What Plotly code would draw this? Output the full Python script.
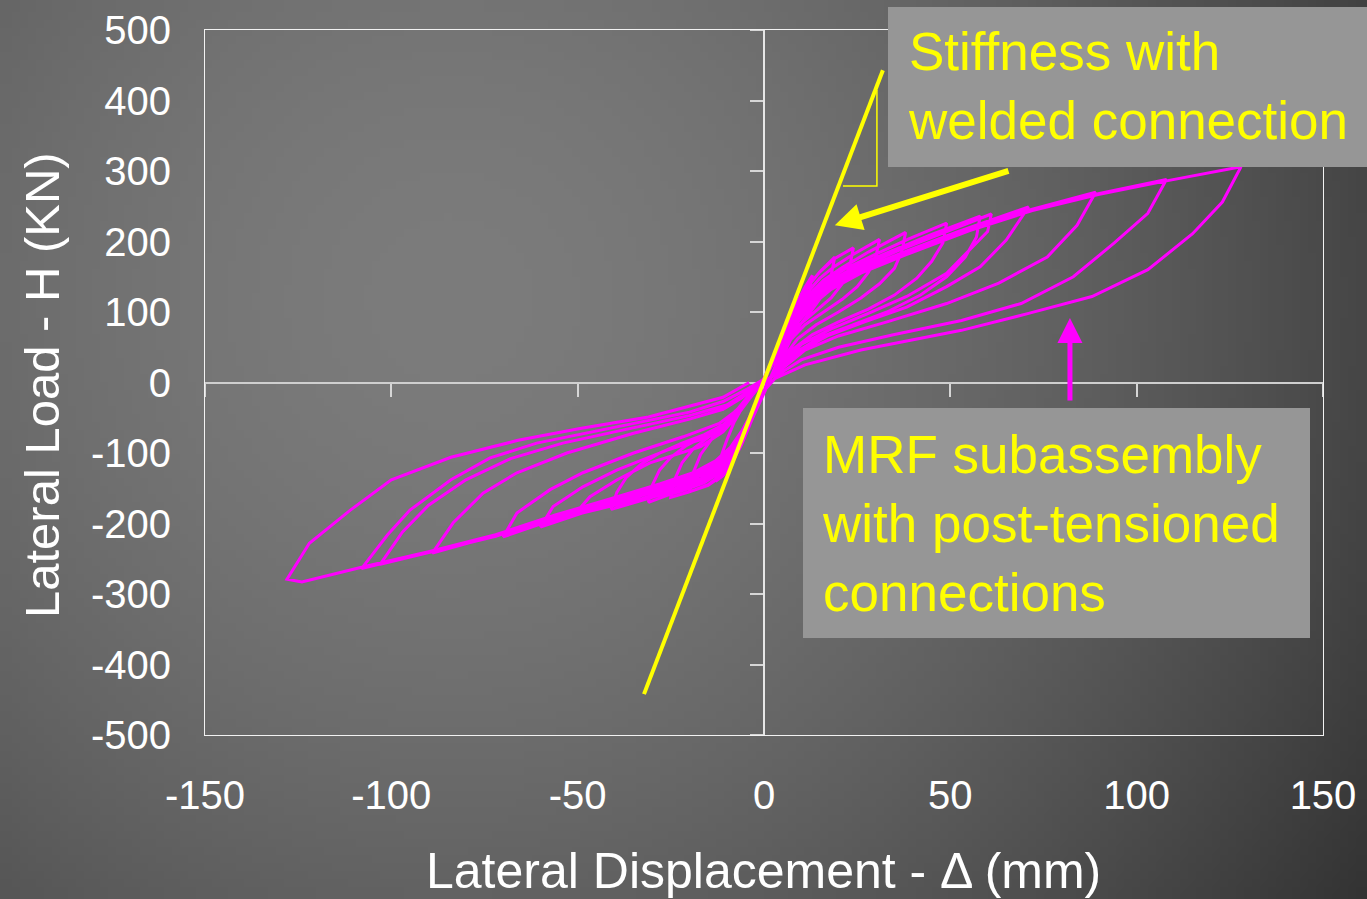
import base64, zlib, struct, math
import plotly.graph_objects as go

# ---------------- data ----------------
x_ticks = [-150, -100, -50, 0, 50, 100, 150]
x_ticktext = ["-150", "-100", "-50", "0", "50", "100", "150"]
y_ticks = [-500, -400, -300, -200, -100, 0, 100, 200, 300, 400, 500]
y_ticktext = ["-500", "-400", "-300", "-200", "-100", "0", "100", "200", "300", "400", "500"]

# hysteresis cycles: (displacement mm, lateral load kN)
c01 = [(0,0),(3,40),(6,80),(9,115),(11,135),(13,152),(12,125),(10,96),(8,70),(6,48),(4,26),(2,8),(0,-15),(-3,-50),(-6,-88),(-9,-118),(-11,-132),(-13,-140),(-12,-112),(-10,-82),(-8,-56),(-6,-36),(-4,-18),(-2,-4),(0,5)]
c02 = [(3,42),(6,80),(9,112),(12,138),(15,157),(19,178),(18,152),(16,126),(13,104),(10,84),(7,62),(4,34),(2,10),(0,-15),(-3,-50),(-6,-87),(-9,-115),(-12,-135),(-15,-146),(-20,-155),(-19,-128),(-17,-102),(-14,-80),(-11,-62),(-8,-44),(-5,-24),(-2,-6),(0,6)]
c03 = [(3,42),(6,80),(9,112),(12,138),(15,157),(19,176),(24,191),(23,165),(21,140),(18,120),(14,102),(10,84),(7,64),(4,36),(2,10),(0,-15),(-3,-50),(-6,-86),(-9,-114),(-12,-133),(-15,-145),(-20,-155),(-25,-163),(-24,-138),(-22,-114),(-19,-94),(-15,-78),(-11,-62),(-8,-46),(-5,-26),(-2,-7),(0,6)]
c04 = [(3,40),(6,76),(9,106),(12,130),(15,148),(19,165),(24,182),(31,203),(30,178),(28,156),(25,136),(21,118),(16,100),(11,82),(7,60),(4,32),(2,8),(0,-14),(-3,-48),(-6,-83),(-9,-110),(-12,-128),(-16,-142),(-21,-152),(-26,-160),(-31,-170),(-30,-146),(-28,-124),(-25,-106),(-21,-90),(-16,-76),(-11,-62),(-8,-48),(-5,-28),(-2,-8),(0,6)]
c05 = [(3,38),(6,72),(9,100),(12,124),(16,145),(21,163),(28,185),(38,213),(37,186),(35,162),(31,140),(26,120),(20,100),(14,82),(9,62),(5,34),(2,8),(0,-14),(-3,-46),(-6,-80),(-9,-106),(-12,-124),(-16,-138),(-22,-150),(-30,-163),(-41,-180),(-39.5,-156),(-37,-135),(-33,-116),(-28,-100),(-22,-86),(-16,-74),(-11,-60),(-8,-46),(-5,-28),(-2,-8),(0,6)]
c06 = [(3,37),(6,70),(9,98),(12,121),(16,142),(22,162),(30,182),(39,204),(49,226),(48,198),(45,172),(41,148),(35,124),(28,104),(20,86),(13,68),(8,48),(4,20),(1,4),(0,-13),(-3,-45),(-6,-78),(-9,-103),(-12,-121),(-17,-137),(-24,-151),(-33,-165),(-42,-177),(-51,-188),(-46.7,-162),(-39.4,-138),(-30.6,-114),(-17,-91),(-11,-70),(-8,-52),(-5,-30),(-2,-8),(0,6)]
c07 = [(3,36),(6,68),(9,95),(12,118),(17,141),(24,163),(33,184),(45,210),(58,236),(57,206),(54,178),(49,150),(42,124),(33,100),(24,82),(15,64),(9,44),(4,18),(1,3),(0,-13),(-3,-44),(-6,-76),(-9,-100),(-13,-120),(-18,-135),(-26,-150),(-36,-165),(-47,-182),(-60,-205),(-56.6,-176),(-48.6,-148),(-39.4,-124),(-26,-96),(-15,-78),(-10,-62),(-7,-45),(-4,-24),(-1,-4),(0,5)]
c08 = [(3,35),(6,66),(9,92),(13,118),(18,140),(26,164),(36,187),(48,212),(61,239),(60,214),(56,193),(49,155),(38.3,122),(28,98),(18,76),(10,54),(5,26),(1,4),(0,-12),(-3,-43),(-6,-74),(-9,-98),(-13,-118),(-19,-134),(-28,-150),(-40,-168),(-54,-190),(-70,-219),(-66.3,-185),(-57.4,-152),(-48.6,-128),(-35,-100),(-21.7,-77),(-12,-58),(-8,-42),(-4,-22),(-1,-3),(0,5)]
c09 = [(3,34),(6,64),(9,90),(13,115),(18,137),(26,160),(37,184),(52,214),(71,249),(65,202),(58,164),(49,136),(38.3,107),(27,86),(17,66),(10,46),(5,22),(1,3),(0,-12),(-3,-42),(-6,-72),(-9,-95),(-13,-114),(-19,-131),(-28,-147),(-40,-166),(-55,-188),(-70,-214),(-89,-242),(-83.4,-199),(-75.4,-157),(-66.3,-128),(-52.9,-100),(-35,-72),(-20,-52),(-11,-38),(-6,-22),(-2,-5),(0,5)]
c10 = [(3,33),(6,62),(9,88),(13,113),(18,135),(26,158),(38,184),(55,218),(72,246),(89,270),(84,223),(76,178),(63,141),(49,112),(33,86),(20,66),(11,46),(5,20),(1,3),(0,-12),(-3,-42),(-6,-71),(-9,-94),(-13,-113),(-19,-130),(-28,-146),(-40,-165),(-56,-190),(-72,-218),(-89,-240),(-103,-258),(-97,-212),(-90,-174),(-80,-138),(-68,-108),(-54,-86),(-37,-66),(-20,-47),(-10,-32),(-5,-16),(-1,-2),(0,5)]
c11 = [(3,33),(6,61),(9,86),(13,111),(18,133),(26,156),(38,182),(55,216),(72,245),(90,268),(108,288),(103,240),(94,198),(83,150),(69,112),(53,88),(35,68),(20,50),(10,32),(4,12),(0,-12),(-3,-41),(-6,-70),(-9,-93),(-13,-112),(-19,-129),(-28,-145),(-40,-164),(-56,-189),(-72,-217),(-90,-241),(-108,-264),(-101,-216),(-95,-181),(-84,-138),(-73.5,-107),(-61,-86),(-39.5,-63),(-20,-42),(-11,-27),(-4,-8),(0,5)]
c12 = [(3,32),(6,60),(9,85),(13,110),(18,132),(26,155),(38,181),(55,215),(72,244),(90,267),(108,286),(128,306),(123,256),(115,211),(103,160),(88,122),(71,98),(53,74),(26,46),(11,25),(3,6),(0,-12),(-3,-41),(-6,-69),(-9,-92),(-13,-111),(-19,-128),(-28,-144),(-40,-163),(-56,-188),(-72,-216),(-90,-240),(-108,-262),(-124,-283),(-128,-279),(-122,-228),(-111,-181),(-100,-138),(-84,-106),(-66,-82),(-49,-65),(-31,-49),(-11,-21),(-4,0)]
cycles = [c01, c02, c03, c04, c05, c06, c07, c08, c09, c10, c11, c12]

# stiffness line with welded connection and its slope triangle
stiff_x = [-32.2, 31.9]
stiff_y = [-442, 443]
tri_x = [30.3, 30.3, 21.2]
tri_y = [415, 278.7, 278.7]

# ---------------- background gradient image ----------------
W, H = 1367, 899
def make_png(w, h, rows):
    raw = b"".join(b"\x00" + bytes(r) for r in rows)
    def chunk(t, d):
        c = struct.pack(">I", len(d)) + t + d
        return c + struct.pack(">I", zlib.crc32(t + d) & 0xffffffff)
    return (b"\x89PNG\r\n\x1a\n" + chunk(b"IHDR", struct.pack(">IIBBBBB", w, h, 8, 0, 0, 0, 0))
            + chunk(b"IDAT", zlib.compress(raw, 9)) + chunk(b"IEND", b""))

gw, gh = 171, 112
rows = []
for j in range(gh):
    row = []
    for i in range(gw):
        X = (i + 0.5) * W / gw
        Y = (j + 0.5) * H / gh
        d = math.hypot(X - 450, Y - 300)
        v = 124 - 22 * (d / 541) ** 1.7
        row.append(int(max(40, min(130, v))))
    rows.append(row)
bg_uri = "data:image/png;base64," + base64.b64encode(make_png(gw, gh, rows)).decode()

# ---------------- figure ----------------
L, R, T, B = 205, 44, 30, 164
PW, PH = W - L - R, H - T - B
FONT = "Liberation Sans, Arial, sans-serif"

xs, ys = [], []
for c in cycles:
    for px, py in c:
        xs.append(px); ys.append(py)

fig = go.Figure()
# invisible trace so that the framing axes (x, y) are drawn
fig.add_trace(go.Scatter(x=[None], y=[None], mode="lines", xaxis="x", yaxis="y",
                         showlegend=False, hoverinfo="skip"))
fig.add_trace(go.Scatter(x=xs, y=ys, mode="lines", xaxis="x2", yaxis="y2",
                         line=dict(color="#FF00FF", width=3), showlegend=False, hoverinfo="skip"))
fig.add_trace(go.Scatter(x=stiff_x, y=stiff_y, mode="lines", xaxis="x2", yaxis="y2",
                         line=dict(color="#FFFF00", width=4), showlegend=False, hoverinfo="skip"))
fig.add_trace(go.Scatter(x=tri_x, y=tri_y, mode="lines", xaxis="x2", yaxis="y2",
                         line=dict(color="#FFFF00", width=1.5), showlegend=False, hoverinfo="skip"))

axis_common = dict(showgrid=False, zeroline=False, automargin=False)
fig.update_layout(
    width=W, height=H,
    margin=dict(l=L, r=R, t=T, b=B, pad=0, autoexpand=False),
    paper_bgcolor="#5e5e5e", plot_bgcolor="rgba(0,0,0,0)",
    font=dict(family=FONT, color="white"),
    showlegend=False,
    xaxis=dict(range=[-150, 150], tickvals=x_ticks, ticktext=x_ticktext, ticks="",
               showline=True, mirror=True, linecolor="#f2f2f2", linewidth=1,
               tickfont=dict(size=40, color="white", family=FONT), ticklabelstandoff=25,
               **axis_common),
    yaxis=dict(range=[-500, 500], tickvals=y_ticks, ticktext=y_ticktext, ticks="",
               showline=True, mirror=True, linecolor="#f2f2f2", linewidth=1,
               tickfont=dict(size=40, color="white", family=FONT), ticklabelstandoff=25,
               **axis_common),
    xaxis2=dict(overlaying="x", anchor="free", position=0.5, range=[-150, 150],
                tickvals=[-150, -100, -50, 50, 100, 150], ticks="outside", ticklen=13, tickwidth=2,
                tickcolor="#d6d6d6", showline=True, linecolor="#cfcfcf", linewidth=2,
                showticklabels=False, layer="below traces", **axis_common),
    yaxis2=dict(overlaying="y", anchor="free", position=0.5, range=[-500, 500], side="left",
                tickvals=[-500, -400, -300, -200, -100, 100, 200, 300, 400, 500], ticks="outside",
                ticklen=13, tickwidth=2, tickcolor="#d6d6d6", showline=True, linecolor="#e6e6e6",
                linewidth=2, showticklabels=False, layer="below traces", **axis_common),
)

fig.add_layout_image(dict(source=bg_uri, xref="paper", yref="paper",
                          x=-L / PW, y=1 + T / PH, sizex=W / PW, sizey=H / PH,
                          xanchor="left", yanchor="top", sizing="stretch", layer="below"))

def px2paper_x(p): return (p - L) / PW
def px2paper_y(p): return (H - B - p) / PH

# text boxes
fig.add_shape(type="rect", xref="paper", yref="paper", layer="above",
              x0=px2paper_x(888), x1=px2paper_x(1370), y0=px2paper_y(167), y1=px2paper_y(7),
              fillcolor="#969696", line=dict(width=0))
fig.add_shape(type="rect", xref="paper", yref="paper", layer="above",
              x0=px2paper_x(803), x1=px2paper_x(1310), y0=px2paper_y(638), y1=px2paper_y(408),
              fillcolor="#969696", line=dict(width=0))

fig.add_annotation(xref="paper", yref="paper", x=px2paper_x(906), y=px2paper_y(86),
                   xanchor="left", yanchor="middle", align="left", showarrow=False,
                   text="Stiffness with<br>welded connection",
                   font=dict(size=53, color="#FFFF00", family=FONT))
fig.add_annotation(xref="paper", yref="paper", x=px2paper_x(820), y=px2paper_y(523),
                   xanchor="left", yanchor="middle", align="left", showarrow=False,
                   text="MRF subassembly<br>with post-tensioned<br>connections",
                   font=dict(size=53, color="#FFFF00", family=FONT))

# arrows
fig.add_annotation(xref="x2", yref="y2", axref="x2", ayref="y2", x=19, y=223, ax=66, ay=301,
                   text="", showarrow=True, arrowhead=2, arrowsize=0.9, arrowwidth=6,
                   arrowcolor="#FFFF00", standoff=0)
fig.add_annotation(xref="x2", yref="y2", axref="x2", ayref="y2", x=82.1, y=91.5, ax=82.1, ay=-27.7,
                   text="", showarrow=True, arrowhead=2, arrowsize=1.0, arrowwidth=5,
                   arrowcolor="#FF00FF", standoff=0)

# axis titles
fig.add_annotation(xref="paper", yref="paper", x=px2paper_x(763), y=px2paper_y(871),
                   xanchor="center", yanchor="middle", showarrow=False,
                   text="Lateral Displacement - Δ (mm)", font=dict(size=50, color="white", family=FONT))
fig.add_annotation(xref="paper", yref="paper", x=px2paper_x(42), y=px2paper_y(385),
                   xanchor="center", yanchor="middle", showarrow=False, textangle=-90,
                   text="Lateral Load - H (KN)", font=dict(size=49, color="white", family=FONT))

fig.write_html("out.html", config={"displayModeBar": False},
               post_script="document.body.style.margin='0px';document.body.style.overflow='hidden';")
